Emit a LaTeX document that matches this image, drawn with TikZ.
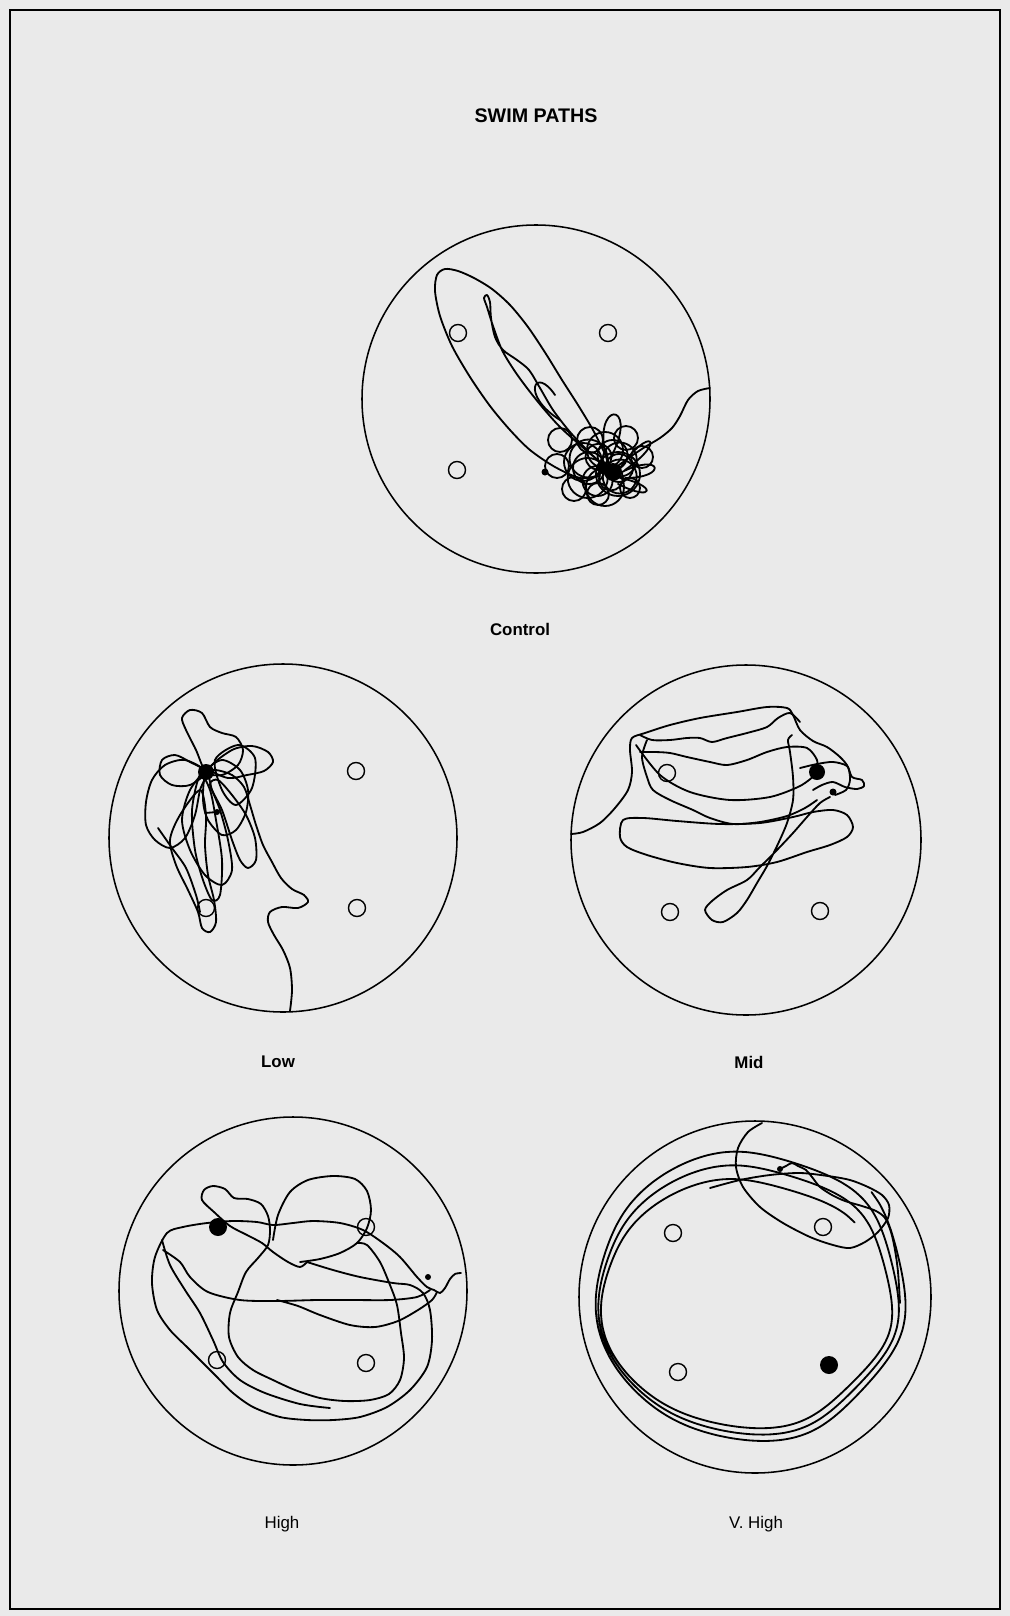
\documentclass[tikz,border=0pt]{standalone}
\usepackage{fontspec}
\setmainfont{Liberation Sans}
\usepackage{xcolor}
\usetikzlibrary{calc}
\definecolor{paper}{HTML}{EAEAEA}
\tikzset{
  pool/.style={line width=1.1pt},
  swim/.style={line width=1.3pt,line join=round,line cap=round},
  plat/.style={line width=1pt},
  lab/.style={font=\fontsize{12}{14}\selectfont\bfseries},
  labr/.style={font=\fontsize{12}{14}\selectfont}
}
\begin{document}
\begin{tikzpicture}[x=0.025cm,y=-0.025cm]
\fill[paper] (0,0) rectangle (1010,1616);
\useasboundingbox (0,0) rectangle (1010,1616);
\draw[line width=2pt] (10,10) rectangle (1000,1609);
\node[font=\fontsize{14}{16}\selectfont\bfseries] (title) at (536,116) {SWIM PATHS};

% control
\draw[pool] (536,399) circle[radius=174];
\foreach \p in {(458,333),(608,333),(457,470)} \draw[plat] \p circle[radius=8.5];
\draw[swim] plot[smooth] coordinates {(612,470) (604,452) (593,430) (578,405) (562,380) (546,354) (528,327) (510,305) (492,289) (474,278) (458,271) (445,269) (437,275) (435,291) (440,316) (452,346) (470,377) (490,406) (510,430) (530,450) (555,467) (580,478) (600,476)};
\draw[swim] plot[smooth] coordinates {(600,462) (580,445) (560,427) (543,408) (527,388) (514,370) (502,350) (493,326) (487,307) (484,298) (487,295) (490,302) (491,318) (495,337) (503,350) (517,360) (529,370) (540,388) (553,410) (570,432) (590,453) (607,468)};
\draw[swim] plot[smooth] coordinates {(615,468) (630,457) (645,447) (660,438) (672,428) (680,416) (688,400) (698,391) (710,388)};
\foreach \a/\r in {0/14,30/17,60/12,90/19,120/15,150/20,180/16,210/19,240/13,270/18,300/15,330/17}
  \draw[swim] ($(605,468)+(\a:\r)$) circle[radius=\r];
\foreach \cx/\cy/\r in {560/440/12,557/466/12,574/489/12,598/494/11,630/488/10,642/457/11,626/438/12,590/440/13,583/462/19,618/474/22}
  \draw[swim] (\cx,\cy) circle[radius=\r];
\draw[swim] (607,460) .. controls (590,400) and (640,400) .. (612,455);
\draw[swim] (560,420) .. controls (520,395) and (535,365) .. (555,395);
\draw[swim] (620,468) .. controls (650,425) and (668,440) .. (625,470);
\draw[swim] (622,472) .. controls (662,452) and (668,478) .. (625,478);
\draw[swim] (620,478) .. controls (657,485) and (655,503) .. (618,484);
\fill (613,472) circle[radius=9];
\fill (603,468) circle[radius=6];
\fill (545,472) circle[radius=3.5];
\node[lab] (ctl) at (520,629) {Control};

% low
\draw[pool] (283,838) circle[radius=174];
\foreach \p in {(356,771),(357,908),(206,908)} \draw[plat] \p circle[radius=8.5];
\draw[swim] plot[smooth] coordinates {(290,1011) (292,990) (290,968) (283,950) (274,935) (268,922) (270,912) (282,907) (298,908) (308,902) (304,895) (292,889) (281,878) (272,862) (263,845) (256,825) (250,805) (244,787) (232,775) (216,770) (206,772)};
\draw[swim] plot[smooth cycle] coordinates {(206,772) (196,750) (186,730) (182,718) (190,710) (202,713) (210,727) (222,733) (236,737) (243,750) (238,765) (222,775)};
\draw[swim] plot[smooth cycle] coordinates {(210,768) (232,750) (252,746) (268,752) (273,762) (264,771) (247,775) (228,778)};
\draw[swim] plot[smooth cycle] coordinates {(206,772) (185,760) (165,765) (152,780) (146,802) (146,825) (155,840) (170,848) (185,838) (195,815) (200,790)};
\draw[swim] plot[smooth cycle] coordinates {(200,790) (180,815) (170,840) (176,865) (188,890) (198,912) (202,928) (210,932) (216,922) (214,900) (208,875) (205,845) (206,815)};
\draw[swim] plot[smooth cycle] coordinates {(210,785) (222,810) (232,840) (240,860) (248,868) (256,860) (255,838) (246,815) (232,795) (218,780)};
\draw[swim] plot[smooth cycle] coordinates {(206,772) (190,790) (182,820) (190,850) (205,875) (222,885) (232,870) (228,840) (220,810) (212,790)};
\draw[swim] plot[smooth cycle] coordinates {(206,772) (222,760) (240,770) (248,790) (246,812) (236,830) (222,835) (208,820) (203,800)};
\draw[swim] plot[smooth cycle] coordinates {(206,772) (190,762) (175,755) (162,760) (160,775) (172,785) (190,785)};
\draw[swim] plot[smooth cycle] coordinates {(200,775) (192,810) (195,850) (203,880) (212,900) (220,895) (222,860) (216,820) (210,790)};
\draw[swim] plot[smooth cycle] coordinates {(215,760) (238,745) (255,758) (252,788) (236,805) (222,790)};
\draw[swim] plot[smooth] coordinates {(158,828) (172,848) (186,868) (196,895) (200,912)};
\fill (206,772) circle[radius=8];
\fill (217,812) circle[radius=3];
\draw[swim] (217,812) -- (205,813);
\node[lab] (low) at (278,1062) {Low};

% mid
\draw[pool] (746,840) circle[radius=175];
\foreach \p in {(667,773),(670,912),(820,911)} \draw[plat] \p circle[radius=8.5];
\draw[swim] plot[smooth] coordinates {(571,834) (583,832) (600,823) (615,808) (628,790) (632,772) (630,750) (632,738) (645,733) (670,725) (700,718) (737,712) (767,707) (787,708) (793,715) (800,730) (813,741) (827,747) (840,757) (848,767) (850,780) (846,790) (835,795)};
\draw[swim] plot[smooth] coordinates {(640,735) (652,740) (670,740) (687,738) (700,738) (712,742) (727,738) (747,733) (767,727) (778,718) (790,713) (800,722)};
\draw[swim] plot[smooth] coordinates {(640,752) (655,752) (670,753) (687,757) (710,762) (727,765) (747,760) (767,752) (787,747) (807,748) (817,760) (817,772)};
\draw[swim] plot[smooth] coordinates {(647,740) (642,757) (647,777) (653,790) (670,800) (693,810) (710,818) (733,824) (760,822) (787,816) (805,808) (817,800)};
\draw[swim] plot[smooth] coordinates {(636,745) (660,775) (690,792) (730,800) (770,797) (800,786) (815,775)};
\draw[swim] plot[smooth cycle] coordinates {(623,820) (620,837) (627,847) (647,855) (677,863) (710,868) (747,867) (777,862) (807,852) (830,845) (847,837) (853,827) (847,815) (833,810) (813,812) (793,817) (760,823) (720,824) (677,821) (643,818)};
\draw[swim] plot[smooth] coordinates {(830,797) (820,803) (807,817) (793,833) (777,850) (760,867) (747,880) (727,890) (712,901) (705,910) (712,920) (723,922) (737,913) (747,900) (757,883) (767,866) (777,846) (787,823) (793,800) (793,777) (790,752) (788,740) (792,735)};
\draw[swim] plot[smooth] coordinates {(800,768) (817,764) (833,762) (847,766) (852,777) (862,780) (864,786) (857,789) (845,787) (833,782) (822,785) (813,790)};
\fill (817,772) circle[radius=8];
\fill (833,792) circle[radius=3.5];
\node[lab] (mid) at (749,1062) {Mid};

% high
\draw[pool] (293,1291) circle[radius=174];
\foreach \p in {(366,1227),(217,1360),(366,1363)} \draw[plat] \p circle[radius=8.5];
\draw[swim] plot[smooth] coordinates {(461,1273) (455,1274) (450,1279) (445,1288) (440,1293) (434,1290) (427,1287) (417,1277) (400,1257) (383,1243) (363,1230) (340,1223) (313,1221) (293,1223) (273,1225) (257,1222) (233,1221) (207,1223) (183,1227) (167,1233) (155,1257) (152,1283) (157,1310) (170,1330) (187,1347) (200,1360) (217,1377) (233,1393) (253,1407) (280,1417) (307,1420) (333,1420) (360,1417) (387,1407) (410,1390) (427,1367) (432,1340) (430,1310) (423,1293) (410,1285) (393,1283) (360,1277) (333,1270) (307,1262)};
\draw[swim] plot[smooth] coordinates {(307,1262) (300,1267) (288,1262) (273,1252) (262,1243) (247,1235) (230,1226) (214,1212) (202,1200) (204,1190) (213,1186) (225,1189) (234,1198) (248,1199) (261,1204) (268,1216) (270,1230) (268,1245) (258,1258) (246,1272) (238,1292) (230,1313) (229,1337) (238,1357) (253,1370) (273,1380) (295,1390) (320,1398) (345,1401) (370,1400) (389,1394) (400,1380) (404,1358) (401,1333) (397,1305) (390,1285) (380,1262) (367,1245) (357,1243)};
\draw[swim] plot[smooth] coordinates {(273,1240) (278,1215) (290,1192) (308,1180) (333,1176) (355,1179) (367,1191) (371,1210) (367,1228) (357,1243) (340,1253) (320,1259) (300,1262)};
\draw[swim] plot[smooth] coordinates {(163,1250) (180,1262) (190,1277) (208,1292) (240,1300) (277,1301) (317,1300) (353,1300) (390,1300) (417,1297) (430,1290)};
\draw[swim] plot[smooth] coordinates {(277,1300) (298,1306) (320,1315) (350,1325) (375,1327) (398,1321) (418,1310) (432,1300) (437,1292)};
\draw[swim] plot[smooth] coordinates {(162,1240) (170,1265) (185,1290) (200,1313) (213,1340) (223,1362) (240,1380) (265,1393) (300,1404) (330,1408)};
\fill (218,1227) circle[radius=9];
\fill (428,1277) circle[radius=3];
\node[labr] (high) at (282,1524) {High};

% very high
\draw[pool] (755,1297) circle[radius=176];
\foreach \p in {(673,1233),(823,1227),(678,1372)} \draw[plat] \p circle[radius=8.5];
\draw[swim] plot[smooth,domain=-40:1040,samples=200]
  ({750-0.0056*\x+(155-0.013*\x)*cos(\x)+2.5*sin(6*\x)},
   {1292+0.0102*\x+(150-0.028*\x)*sin(\x)+2.5*cos(5*\x)});
\draw[swim] plot[smooth] coordinates {(762,1123) (748,1132) (738,1148) (736,1167) (743,1187) (760,1207) (783,1223) (810,1237) (833,1245) (850,1248) (865,1242) (878,1232) (888,1218) (889,1205) (882,1195) (868,1187) (850,1180) (828,1176) (800,1173) (770,1175) (740,1180) (710,1188)};
\draw[swim] plot[smooth] coordinates {(780,1169) (786,1166) (792,1163) (798,1166) (806,1170) (812,1177) (820,1187) (832,1195) (845,1201) (862,1206) (876,1211) (885,1218) (891,1232) (895,1250) (898,1272) (900,1303)};
\fill (829,1365) circle[radius=9];
\fill (780,1169) circle[radius=3];
\node[labr] (vhigh) at (756,1524) {V. High};
\end{tikzpicture}
\end{document}
